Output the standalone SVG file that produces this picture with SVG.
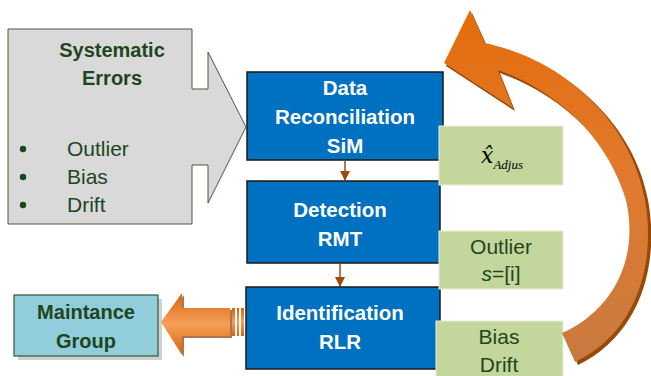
<svg xmlns="http://www.w3.org/2000/svg" width="651" height="376" viewBox="0 0 651 376">
<defs>
<style>
.blue{fill:#0070c0;stroke:#1a1a1a;stroke-width:1.5}
.green{fill:#c3d69b;stroke:#e8eedc;stroke-width:1}
.wt{font-family:"Liberation Sans",Arial,sans-serif;font-weight:bold;font-size:20.5px;fill:#fff;text-anchor:middle}
.gt{font-family:"Liberation Sans",Arial,sans-serif;font-size:21px;fill:#1e4620;text-anchor:middle}
.gb{font-family:"Liberation Sans",Arial,sans-serif;font-weight:bold;font-size:20px;fill:#1e4620;text-anchor:middle}
.con{stroke:#a0490f;stroke-width:1.5;fill:none}
</style>
<marker id="ah" markerWidth="10" markerHeight="10" refX="9" refY="5" orient="auto" markerUnits="userSpaceOnUse">
<path d="M0,0 L10,5 L0,10 Z" fill="#a0490f"/>
</marker>
<linearGradient id="lg" x1="0" y1="0" x2="0" y2="1">
<stop offset="0" stop-color="#d8620a"/>
<stop offset="0.5" stop-color="#f5a05a"/>
<stop offset="1" stop-color="#d8620a"/>
</linearGradient>
<linearGradient id="cg" x1="0" y1="0" x2="0" y2="1">
<stop offset="0" stop-color="#e46c0a"/>
<stop offset="0.5" stop-color="#e07a30"/>
<stop offset="1" stop-color="#c87a40"/>
</linearGradient>
</defs>
<rect width="651" height="376" fill="#fff"/>

<g id="systematic-errors">
<path d="M8,29 H192 V89 H208 V52 L246,127 L208,203 V165 H192 V224 H8 Z" fill="#d9d9d9" stroke="#4a5a40" stroke-width="1"/>
<text class="gb" x="112" y="57">Systematic</text>
<text class="gb" x="112" y="85">Errors</text>
<circle cx="23" cy="149" r="3.2" fill="#1e4620"/>
<circle cx="23" cy="177" r="3.2" fill="#1e4620"/>
<circle cx="23" cy="205" r="3.2" fill="#1e4620"/>
<text class="gt" x="67" y="156" style="text-anchor:start">Outlier</text>
<text class="gt" x="67" y="184" style="text-anchor:start">Bias</text>
<text class="gt" x="67" y="212" style="text-anchor:start">Drift</text>
</g>

<g id="connectors">
<line class="con" x1="345" y1="161" x2="345" y2="180" marker-end="url(#ah)"/>
<line class="con" x1="340" y1="264" x2="340" y2="286" marker-end="url(#ah)"/>
</g>

<g id="data-reconciliation">
<rect class="blue" x="247" y="72" width="196" height="88"/>
<text class="wt" x="345" y="95">Data</text>
<text class="wt" x="345" y="124">Reconciliation</text>
<text class="wt" x="345" y="153">SiM</text>
</g>

<g id="detection">
<rect class="blue" x="247" y="181" width="193" height="82"/>
<text class="wt" x="340" y="217">Detection</text>
<text class="wt" x="340" y="246">RMT</text>
</g>

<g id="identification">
<rect class="blue" x="246" y="287" width="194" height="82"/>
<text class="wt" x="340" y="320">Identification</text>
<text class="wt" x="340" y="349">RLR</text>
</g>

<g id="x-adjus">
<rect class="green" x="439" y="126" width="124" height="59"/>
<text x="481" y="163" font-family="'DejaVu Serif',serif" font-style="italic" font-size="22" fill="#000">x̂<tspan font-family="'Liberation Serif',serif" font-size="13" dy="6">Adjus</tspan></text>
</g>

<g id="outlier">
<rect class="green" x="439" y="231" width="124" height="58"/>
<text class="gt" x="501" y="254">Outlier</text>
<text class="gt" x="501" y="281"><tspan font-style="italic">s</tspan>=[i]</text>
</g>

<g id="bias-drift">
<rect class="green" x="436" y="321" width="127" height="56"/>
<text class="gt" x="499" y="344">Bias</text>
<text class="gt" x="499" y="372">Drift</text>
</g>

<g id="maintance-group">
<rect x="18" y="299" width="144" height="61" fill="#b0b0b0" opacity="0.6"/>
<rect x="14" y="295" width="144" height="61" fill="#92cddc" stroke="#2f5a3a" stroke-width="1.2"/>
<text class="gb" x="86" y="319">Maintance</text>
<text class="gb" x="86" y="348">Group</text>
</g>

<g id="left-arrow">
<path d="M163,324 L184,295 V310 H232 V338 H184 V357 Z" fill="#8a3c06" opacity="0.7"/>
<path d="M161,322 L182,293 V308 H230 V336 H182 V355 Z" fill="url(#lg)"/>
<rect x="232" y="308" width="3" height="28" fill="url(#lg)"/>
<rect x="237" y="308" width="2" height="28" fill="url(#lg)"/>
<rect x="241" y="308" width="3" height="28" fill="url(#lg)"/>
</g>

<g id="loop-arrow">
<path d="M446,66 L515,111 L500,73 C560,95 610,140 630,200 C645,265 615,315 566,336 L578,365 C640,335 660,265 648,200 C635,130 575,65 487,46 L472,13 Z" fill="#984807"/>
<path d="M444,63 L513,108 L498,70 C560,92 608,140 626,200 C640,262 610,312 562,333 L575,362 C638,332 656,262 645,200 C632,128 572,62 485,43 L470,10 Z" fill="url(#cg)"/>
</g>
</svg>
